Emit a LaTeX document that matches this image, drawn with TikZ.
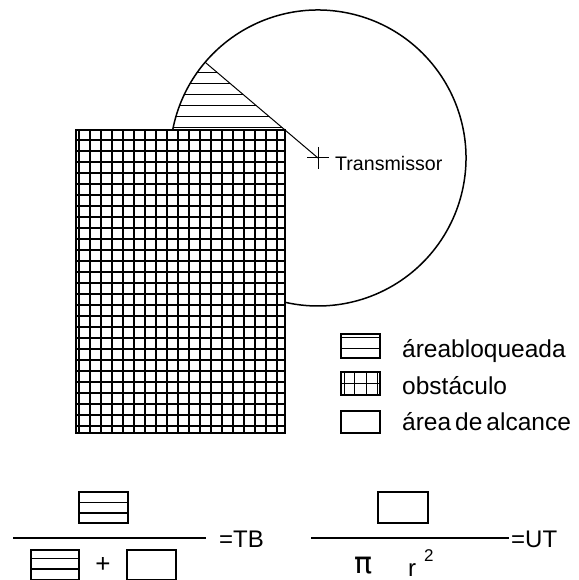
\documentclass[tikz,border=0pt]{standalone}
\usepackage{fontspec}
\setmainfont{Liberation Sans}
\newfontfamily\dejavu{DejaVu Sans}
\usetikzlibrary{calc}
\begin{document}
\begin{tikzpicture}[x=1pt,y=-1pt,
  thinline/.style={line width=1pt},
  gridline/.style={line width=1.2pt},
  edge/.style={line width=1.5pt},
  boxline/.style={line width=1.4pt},
  lbl/.style={inner sep=0pt, anchor=base west},
  legfont/.style={font=\fontsize{24.5}{28}\selectfont},
  eqfont/.style={font=\fontsize{24}{26}\selectfont}]
\useasboundingbox (0,0) rectangle (578,580);
\fill[white] (0,0) rectangle (578,580);
% transmitter position / circle of reach
\coordinate (tx) at (318,158);
\draw[edge] (tx) ++(190.9:148) arc[start angle=190.9,end angle=462.9,radius=148];
% blocked (hatched) area
\begin{scope}
\clip (tx) ++(220.31:148) arc[start angle=220.31,end angle=190.9,radius=148] -- (285,130) -- cycle;
\foreach \y in {73,84,...,128} \draw[thinline] (150,\y) -- (300,\y);
\end{scope}
\draw[thinline] (tx) ++(220.31:148) -- (tx);
% obstacle grid
\foreach \k in {0,...,18} \draw[gridline] ({79+11*\k},130) -- ({79+11*\k},433);
\foreach \k in {0,...,26} \draw[gridline] (76,{140+11*\k}) -- (285,{140+11*\k});
\draw[gridline] (76,130) rectangle (285,433);
% transmitter cross and label
\draw[thinline] (307,158) -- (329,158) (318,147) -- (318,169);
\node[lbl, font=\fontsize{19.6}{22}\selectfont] (txlabel) at (335,170) {Transmissor};
% legend
\draw[boxline] (341,334) rectangle (380,358);
\draw[thinline] (341,337.5) -- (380,337.5) (341,348.5) -- (380,348.5);
\node[lbl, legfont] (leg1) at (402,357) {áreabloqueada};
\draw[boxline] (341,372) rectangle (380,395);
\draw[thinline] (344,372) -- (344,395) (354,372) -- (354,395) (366,372) -- (366,395) (377,372) -- (377,395) (341,383.5) -- (380,383.5);
\node[lbl, legfont] (leg2) at (402,394) {obstáculo};
\draw[boxline] (341,411) rectangle (380,433);
\node[lbl, legfont] (leg3) at (402,430) {área\hspace{4pt}de\hspace{4pt}alcance};
% formula TB
\draw[boxline] (79,492) rectangle (128,523);
\draw[boxline] (79,502.5) -- (128,502.5) (79,513) -- (128,513);
\draw[boxline] (13,538) -- (206,538);
\node[lbl, eqfont] (tb) at (219,547) {=TB};
\draw[boxline] (31,550) rectangle (79,580);
\draw[boxline] (31,558.5) -- (79,558.5) (31,569) -- (79,569);
\node[inner sep=0pt, font=\fontsize{26}{28}\selectfont] (plus) at (103,565) {+};
\draw[boxline] (127,550) rectangle (176,580);
% formula UT
\draw[boxline] (378,492) rectangle (428,523);
\draw[boxline] (311,538) -- (509,538);
\node[lbl, eqfont] (ut) at (511,547) {=UT};
\node[inner sep=0pt, anchor=north, font=\dejavu\fontsize{30}{32}\selectfont] (pi) at (364,557) {π};
\node[lbl, eqfont] (r) at (408,576) {r};
\node[lbl, font=\fontsize{17}{18}\selectfont] (two) at (424,561) {2};
\end{tikzpicture}
\end{document}
